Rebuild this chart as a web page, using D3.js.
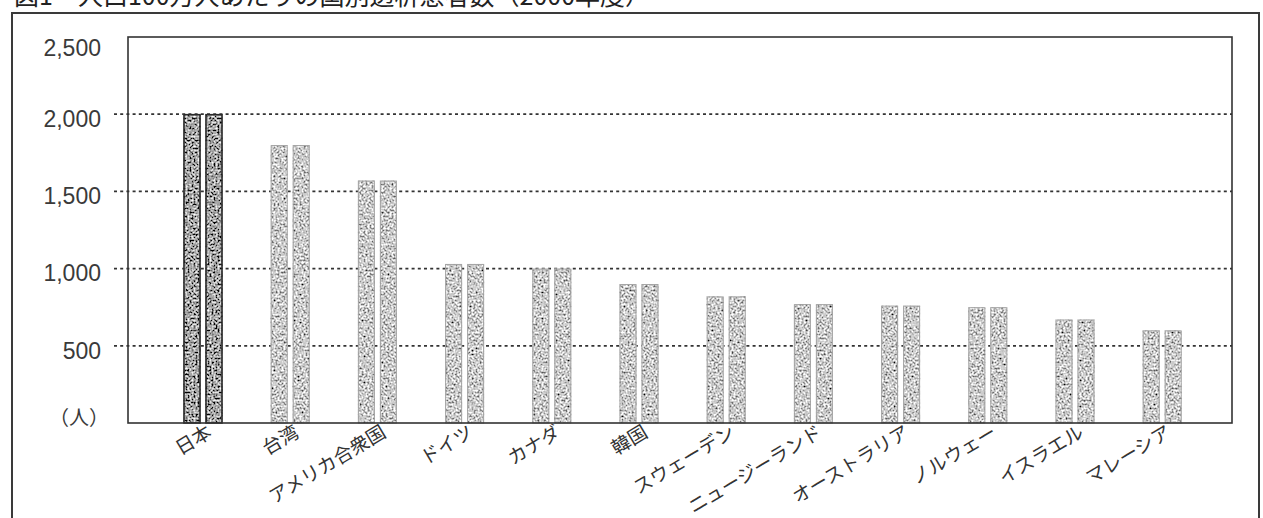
<!DOCTYPE html>
<html lang="ja">
<head>
<meta charset="utf-8">
<script src="https://cdn.jsdelivr.net/npm/d3@7"></script>
<style>
  html, body { margin: 0; padding: 0; background: #fff; }
  svg { display: block; }
</style>
</head>
<body>
<svg id="chart" width="1263" height="518"></svg>
<script>
// 国別の人口100万人あたり透析患者数
const categories = ["日本", "台湾", "アメリカ合衆国", "ドイツ", "カナダ", "韓国",
  "スウェーデン", "ニュージーランド", "オーストラリア", "ノルウェー", "イスラエル", "マレーシア"];
const patients = [2000, 1800, 1570, 1030, 1000, 900, 820, 770, 760, 750, 670, 600];
const yTicks = [0, 500, 1000, 1500, 2000, 2500];
const yUnit = "（人）";
const title = "図1　人口100万人あたりの国別透析患者数（2000年度）";

const svg = d3.select("#chart");
const plot = { left: 128, right: 1232, top: 37, bottom: 423 };

// 粒状の網かけ（印刷物風のスクリーントーン）
const defs = svg.append("defs");
function grainFilter(id, offset, seed) {
  const f = defs.append("filter").attr("id", id)
    .attr("x", "0").attr("y", "0").attr("width", "100%").attr("height", "100%");
  f.append("feTurbulence").attr("type", "fractalNoise")
    .attr("baseFrequency", "0.5").attr("numOctaves", 2).attr("seed", seed).attr("result", "noise");
  f.append("feColorMatrix").attr("in", "noise").attr("type", "matrix")
    .attr("values", `2.0 0 0 0 ${offset}  2.0 0 0 0 ${offset}  2.0 0 0 0 ${offset}  0 0 0 0 1`)
    .attr("result", "tone");
  f.append("feComposite").attr("in", "tone").attr("in2", "SourceGraphic").attr("operator", "in");
}
grainFilter("grainLight", -0.4, 7);
grainFilter("grainDark", -0.62, 11);

// 外枠
svg.append("rect")
  .attr("x", 12).attr("y", 13).attr("width", 1247).attr("height", 540)
  .attr("fill", "none").attr("stroke", "#3a3a3a").attr("stroke-width", 2);

// タイトル（上端で切れている）
svg.append("text")
  .attr("x", 14).attr("y", 5)
  .attr("font-family", "'Noto Sans CJK JP', sans-serif")
  .attr("font-size", 25)
  .attr("fill", "#222")
  .text(title);

const x = d3.scaleBand().domain(categories).range([159.4, 1205.8]).padding(0);
const y = d3.scaleLinear().domain([0, 2500]).range([plot.bottom, plot.top]);

// 点線の目盛線
svg.append("g").selectAll("line")
  .data(yTicks.filter(v => v > 0 && v < 2500))
  .join("line")
  .attr("x1", 114).attr("x2", plot.right)
  .attr("y1", d => y(d)).attr("y2", d => y(d))
  .attr("stroke", "#333").attr("stroke-width", 1.7)
  .attr("stroke-dasharray", "3,3.2");

// 棒（各国2本一組）
const barW = 17, gap = 5;
const rows = categories.map((c, i) => ({ c, v: patients[i], i }));
const pairs = rows.flatMap(r => [
  { ...r, dx: -gap / 2 - barW },
  { ...r, dx: gap / 2 }
]);
const bars = svg.append("g");
bars.selectAll("rect.fill")
  .data(pairs)
  .join("rect")
  .attr("class", "fill")
  .attr("x", d => x(d.c) + x.bandwidth() / 2 + d.dx)
  .attr("y", d => y(d.v))
  .attr("width", barW)
  .attr("height", d => y(0) - y(d.v))
  .attr("fill", "#999")
  .attr("filter", d => d.i === 0 ? "url(#grainDark)" : "url(#grainLight)");
bars.selectAll("rect.edge")
  .data(pairs)
  .join("rect")
  .attr("class", "edge")
  .attr("x", d => x(d.c) + x.bandwidth() / 2 + d.dx + 0.5)
  .attr("y", d => y(d.v) + 0.5)
  .attr("width", barW - 1)
  .attr("height", d => y(0) - y(d.v) - 0.5)
  .attr("fill", "none")
  .attr("stroke", d => d.i === 0 ? "#2a2a2a" : "#a5a5a5")
  .attr("stroke-width", d => d.i === 0 ? 1.6 : 1);

// プロット枠
svg.append("rect")
  .attr("x", plot.left).attr("y", plot.top)
  .attr("width", plot.right - plot.left).attr("height", plot.bottom - plot.top)
  .attr("fill", "none").attr("stroke", "#333").attr("stroke-width", 1.6);

// 縦軸
const yAxis = svg.append("g")
  .attr("transform", "translate(101,0)")
  .call(d3.axisLeft(y).tickValues(yTicks).tickSize(0).tickPadding(0)
    .tickFormat(d => d === 0 ? yUnit : d3.format(",")(d)));
yAxis.select(".domain").remove();
yAxis.selectAll("text")
  .attr("font-family", "'Liberation Sans', Arial, sans-serif")
  .attr("font-size", 23)
  .attr("fill", "#3a3a3a")
  .attr("dy", "0.36em")
  .attr("y", d => d === 2500 ? 10 : d === 0 ? -6 : 4);
yAxis.selectAll("text").filter(d => d === 0)
  .attr("font-family", "'Noto Sans CJK JP', sans-serif")
  .attr("font-size", 20)
  .attr("x", 8);

// 横軸（国名）
const xAxis = svg.append("g")
  .attr("transform", `translate(0,${plot.bottom})`)
  .call(d3.axisBottom(x).tickSize(0));
xAxis.select(".domain").remove();
xAxis.selectAll("text")
  .attr("font-family", "'Noto Sans CJK JP', sans-serif")
  .attr("font-size", 19)
  .attr("fill", "#333")
  .attr("text-anchor", "end")
  .attr("y", 0).attr("dy", 0)
  .attr("transform", "translate(10,13) rotate(-31)");
</script>
</body>
</html>
